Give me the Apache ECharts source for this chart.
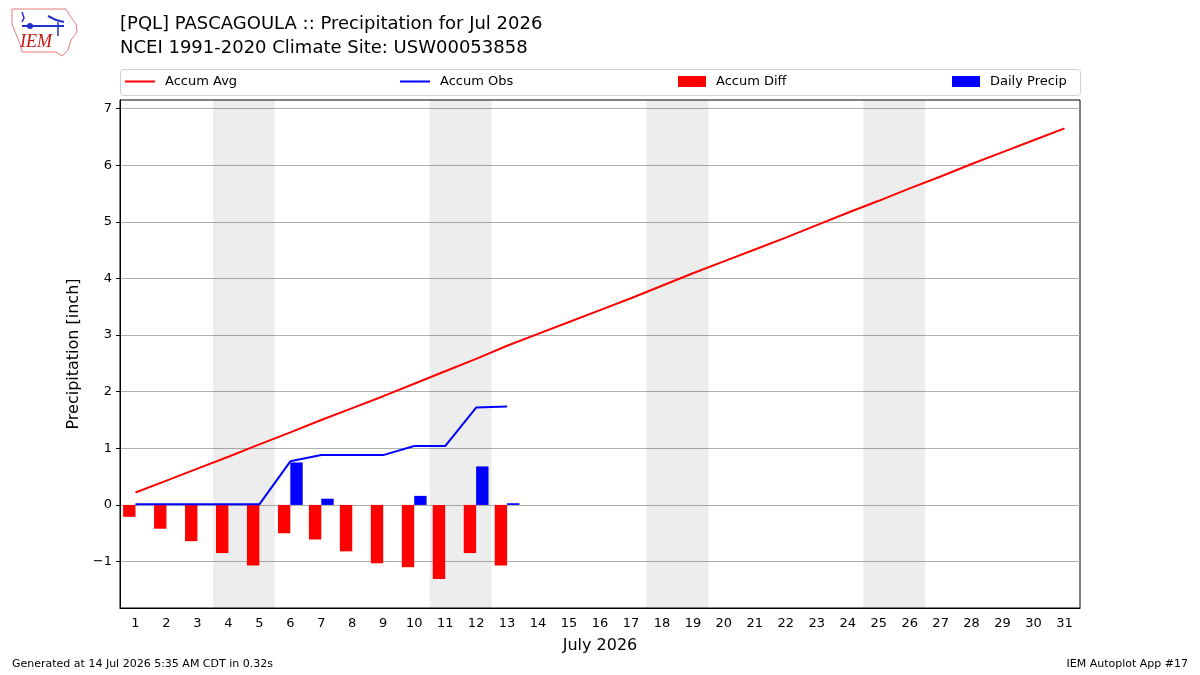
<!DOCTYPE html>
<html>
<head>
<meta charset="utf-8">
<script src="https://cdn.jsdelivr.net/npm/echarts@6/dist/echarts.min.js"></script>
<style>
  html, body { margin: 0; padding: 0; background: #fff; }
  #chart { width: 1200px; height: 675px; }
</style>
</head>
<body>
<div id="chart"></div>
<script>
// days of July 2026
const days = Array.from({ length: 31 }, (_, i) => String(i + 1));
// climatology accumulated precip (inch)
const accumAvg = [0.22, 0.43, 0.64, 0.85, 1.07, 1.28, 1.50, 1.71, 1.92, 2.14, 2.36, 2.58, 2.81,
  3.02, 3.23, 3.44, 3.65, 3.87, 4.09, 4.30, 4.51, 4.72, 4.94, 5.16, 5.37, 5.59, 5.80, 6.02, 6.23, 6.44, 6.65];
// observed accumulated precip
const accumObs = [0.01, 0.01, 0.01, 0.01, 0.01, 0.77, 0.88, 0.88, 0.88, 1.04, 1.04, 1.72, 1.74];
// observed minus average
const accumDiff = [-0.21, -0.42, -0.64, -0.85, -1.07, -0.50, -0.61, -0.82, -1.03, -1.10, -1.31, -0.85, -1.07];
// daily observed precip
const dailyPrecip = [0.01, 0, 0, 0, 0, 0.75, 0.11, 0, 0, 0.16, 0, 0.68, 0.03];
// weekend shading, [first day, last day]
const weekends = [[4, 5], [11, 12], [18, 19], [25, 26]];
const yTicks = [-1, 0, 1, 2, 3, 4, 5, 6, 7];

const font = 'DejaVu Sans';
const chart = echarts.init(document.getElementById('chart'));

const legendBase = {
  top: 70,
  itemGap: 10,
  textStyle: { fontFamily: font, fontSize: 13, color: '#000', padding: [0, 0, 0, 5] },
  selectedMode: false,
};

const option = {
  animation: false,
  textStyle: { fontFamily: font },
  title: [
    {
      text: '[PQL] PASCAGOULA :: Precipitation for Jul 2026\nNCEI 1991-2020 Climate Site: USW00053858',
      left: 115,
      top: 7,
      textStyle: { fontFamily: font, fontSize: 18, fontWeight: 'normal', color: '#000', lineHeight: 24 },
    },
  ],
  legend: [
    Object.assign({ left: 120, itemWidth: 30, itemHeight: 2, data: [{ name: 'Accum Avg', icon: 'rect' }] }, legendBase),
    Object.assign({ left: 395, itemWidth: 30, itemHeight: 2, data: [{ name: 'Accum Obs', icon: 'rect' }] }, legendBase),
    Object.assign({ left: 673, itemWidth: 28, itemHeight: 11, data: [{ name: 'Accum Diff', icon: 'rect' }] }, legendBase),
    Object.assign({ left: 947, itemWidth: 28, itemHeight: 11, data: [{ name: 'Daily Precip', icon: 'rect' }] }, legendBase),
  ],
  grid: {
    left: 120,
    right: 120,
    top: 100,
    bottom: 67,
    show: true,
    borderColor: '#000',
    borderWidth: 1,
  },
  xAxis: [
    {
      type: 'category',
      data: days,
      boundaryGap: true,
      name: 'July 2026',
      nameLocation: 'middle',
      nameGap: 30,
      nameTextStyle: { fontFamily: font, fontSize: 16, color: '#000' },
      axisLine: { onZero: false, lineStyle: { color: '#000' } },
      axisTick: { alignWithLabel: true, length: 4, lineStyle: { color: '#000' } },
      axisLabel: { interval: 0, fontFamily: font, fontSize: 13, color: '#000', margin: 9 },
      splitLine: { show: false },
    },
    {
      type: 'value',
      min: 0.5,
      max: 31.5,
      show: false,
    },
  ],
  yAxis: {
    type: 'value',
    min: -1.82,
    max: 7.15,
    name: 'Precipitation [inch]',
    nameLocation: 'middle',
    nameGap: 33,
    nameTextStyle: { fontFamily: font, fontSize: 16, color: '#000' },
    axisLine: { show: true, lineStyle: { color: '#000' } },
    axisTick: { show: true, length: 4, customValues: yTicks, lineStyle: { color: '#000' } },
    axisLabel: {
      fontFamily: font, fontSize: 13, color: '#000', margin: 8, customValues: yTicks,
      formatter: (v) => (v < 0 ? '\u2212' + Math.abs(v) : String(v)),
    },
    splitLine: { show: true, customValues: yTicks, lineStyle: { color: '#b0b0b0', width: 1 } },
  },
  series: [
    {
      name: 'weekends',
      type: 'line',
      xAxisIndex: 1,
      data: [],
      silent: true,
      markArea: {
        silent: true,
        itemStyle: { color: 'rgba(0,0,0,0.07)' },
        data: weekends.map((w) => [{ xAxis: w[0] - 0.5 }, { xAxis: w[1] + 0.5 }]),
      },
      z: 0,
    },
    {
      name: 'Accum Diff',
      type: 'bar',
      data: accumDiff,
      barWidth: '40%',
      barGap: '0%',
      itemStyle: { color: '#ff0000' },
      z: 2,
    },
    {
      name: 'Daily Precip',
      type: 'bar',
      data: dailyPrecip,
      barWidth: '40%',
      barGap: '0%',
      itemStyle: { color: '#0000ff' },
      z: 2,
    },
    {
      name: 'Accum Avg',
      type: 'line',
      data: accumAvg,
      symbol: 'none',
      lineStyle: { color: '#ff0000', width: 2 },
      itemStyle: { color: '#ff0000' },
      z: 3,
    },
    {
      name: 'Accum Obs',
      type: 'line',
      data: accumObs,
      symbol: 'none',
      lineStyle: { color: '#0000ff', width: 2 },
      itemStyle: { color: '#0000ff' },
      z: 3,
    },
  ],
  graphic: [
    // legend frame
    {
      type: 'rect',
      shape: { x: 120.5, y: 69.5, width: 960, height: 26, r: 3 },
      style: { fill: 'none', stroke: '#d0d0d0', lineWidth: 1 },
      z: -1,
    },
    // IEM logo (rough)
    {
      type: 'polyline',
      shape: { points: [[12, 9], [66, 9], [70, 16], [76, 24], [77, 32], [71, 40], [68, 50], [62, 56], [56, 52], [22, 52], [20, 44], [16, 34], [12, 24], [12, 9]] },
      style: { fill: 'none', stroke: '#e87a7a', lineWidth: 1 },
    },
    {
      type: 'polyline',
      shape: { points: [[22, 26], [64, 26]] },
      style: { stroke: '#2233cc', lineWidth: 2 },
    },
    {
      type: 'circle',
      shape: { cx: 30, cy: 26, r: 3 },
      style: { fill: '#2233cc' },
    },
    {
      type: 'polyline',
      shape: { points: [[48, 16], [56, 20], [64, 22]] },
      style: { stroke: '#2233cc', lineWidth: 2, fill: 'none' },
    },
    {
      type: 'polyline',
      shape: { points: [[58, 22], [58, 36]] },
      style: { stroke: '#2233cc', lineWidth: 1.5 },
    },
    {
      type: 'polyline',
      shape: { points: [[22, 12], [24, 18], [22, 22]] },
      style: { stroke: '#2233cc', lineWidth: 1.5, fill: 'none' },
    },
    {
      type: 'text',
      left: 20,
      top: 33,
      style: { text: 'IEM', font: 'italic 18px "Liberation Serif"', fill: '#cc1111' },
    },
    // footer
    {
      type: 'text',
      left: 12,
      top: 659,
      style: { text: 'Generated at 14 Jul 2026 5:35 AM CDT in 0.32s', font: '11px "DejaVu Sans"', fill: '#000' },
    },
    {
      type: 'text',
      right: 12,
      top: 659,
      style: { text: 'IEM Autoplot App #17', font: '11px "DejaVu Sans"', fill: '#000' },
    },
  ],
};

chart.setOption(option);
</script>
</body>
</html>
